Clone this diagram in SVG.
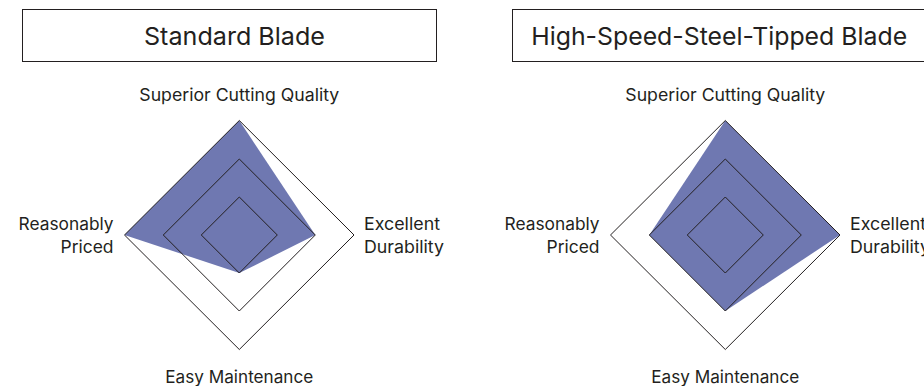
<svg xmlns="http://www.w3.org/2000/svg" width="924" height="386" viewBox="0 0 924 386">
<style>
.bg{fill:#ffffff}
.box{fill:#ffffff;stroke:#231f20;stroke-width:1}
.title{font-family:Inter,"Liberation Sans",Arial,sans-serif;font-size:24.5px;fill:#231f20;text-anchor:middle}
.lbl{font-family:Inter,"Liberation Sans",Arial,sans-serif;font-size:17px;fill:#231f20}
.mid{text-anchor:middle}
.end{text-anchor:end}
.ring{fill:none;stroke:#231f20;stroke-width:1}
.area{fill:#6f78b1;stroke:none}
</style>
<rect class="bg" x="0" y="0" width="924" height="386"/>
<g id="title-standard">
<rect class="box" x="22.5" y="9.5" width="414" height="52"/>
<text class="title" x="234.5" y="44.5" textLength="181" lengthAdjust="spacingAndGlyphs">Standard Blade</text>
</g>
<g id="title-hss">
<rect class="box" x="512.5" y="9.5" width="414" height="52"/>
<text class="title" x="719.2" y="44.5" textLength="376" lengthAdjust="spacingAndGlyphs">High-Speed-Steel-Tipped Blade</text>
</g>
<g id="chart-standard">
<polygon class="area" points="239.3,120.5 315.3,235 239.3,273 124.5,235"/>
<polygon class="ring" points="239.3,120.5 354,235 239.3,349.5 124.5,235"/>
<polygon class="ring" points="239.3,159 315.3,235 239.3,311 163.3,235"/>
<polygon class="ring" points="239.3,197 277.3,235 239.3,273 201.3,235"/>
<text class="lbl mid" x="239.3" y="100.5" textLength="200" lengthAdjust="spacingAndGlyphs">Superior Cutting Quality</text>
<text class="lbl" x="364" y="229.5" textLength="76" lengthAdjust="spacingAndGlyphs">Excellent</text>
<text class="lbl" x="364" y="253" textLength="80" lengthAdjust="spacingAndGlyphs">Durability</text>
<text class="lbl end" x="113.5" y="229.5" textLength="95" lengthAdjust="spacingAndGlyphs">Reasonably</text>
<text class="lbl end" x="113.5" y="253" textLength="53" lengthAdjust="spacingAndGlyphs">Priced</text>
<text class="lbl mid" x="239.3" y="382.5" textLength="148" lengthAdjust="spacingAndGlyphs">Easy Maintenance</text>
</g>
<g id="chart-hss">
<polygon class="area" points="725.3,120.5 840,235 725.3,311 649.3,235"/>
<polygon class="ring" points="725.3,120.5 840,235 725.3,349.5 610.5,235"/>
<polygon class="ring" points="725.3,159 801.3,235 725.3,311 649.3,235"/>
<polygon class="ring" points="725.3,197 763.3,235 725.3,273 687.3,235"/>
<text class="lbl mid" x="725.3" y="100.5" textLength="200" lengthAdjust="spacingAndGlyphs">Superior Cutting Quality</text>
<text class="lbl" x="850" y="229.5" textLength="76" lengthAdjust="spacingAndGlyphs">Excellent</text>
<text class="lbl" x="850" y="253" textLength="80" lengthAdjust="spacingAndGlyphs">Durability</text>
<text class="lbl end" x="599.5" y="229.5" textLength="95" lengthAdjust="spacingAndGlyphs">Reasonably</text>
<text class="lbl end" x="599.5" y="253" textLength="53" lengthAdjust="spacingAndGlyphs">Priced</text>
<text class="lbl mid" x="725.3" y="382.5" textLength="148" lengthAdjust="spacingAndGlyphs">Easy Maintenance</text>
</g>
<g id="connectors"></g>
</svg>
